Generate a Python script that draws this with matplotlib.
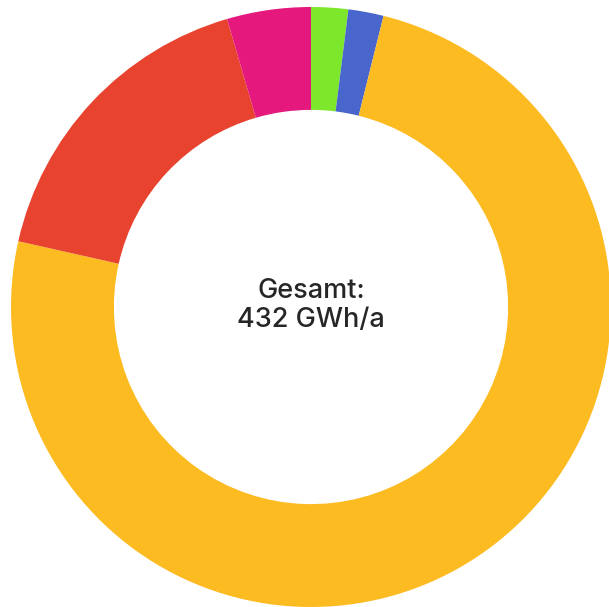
import matplotlib
matplotlib.use('Agg')
import matplotlib.pyplot as plt

# Jahresverbrauch nach Sektor in GWh/a, im Uhrzeigersinn ab 12 Uhr
labels = ['Gruen', 'Blau', 'Gelb', 'Rot', 'Pink']
values = [8.6, 8.2, 322.4, 73.3, 19.5]
colors = ['#7de82b', '#4866cb', '#fdbb22', '#e8432f', '#e5187d']
total_label = '432 GWh/a'

fig = plt.figure(figsize=(6.09, 6.07), dpi=100)
ax = fig.add_axes([0, 0, 1, 1])

ax.pie(values, colors=colors, startangle=90, counterclock=False, radius=1.0,
       wedgeprops=dict(width=0.343, linewidth=0))

ax.text(0, 0.03, 'Gesamt:', ha='center', va='baseline', fontsize=19.5,
        family='Inter', weight='medium', color='#262626')
ax.text(0, -0.0667, total_label, ha='center', va='baseline', fontsize=19.5,
        family='Inter', weight='medium', color='#262626')

ax.set_aspect('auto')
ax.set_xlim(-1.0367, 0.9933)
ax.set_ylim(-1.0, 1.0233)
ax.axis('off')

plt.savefig('out.png', dpi=100)
